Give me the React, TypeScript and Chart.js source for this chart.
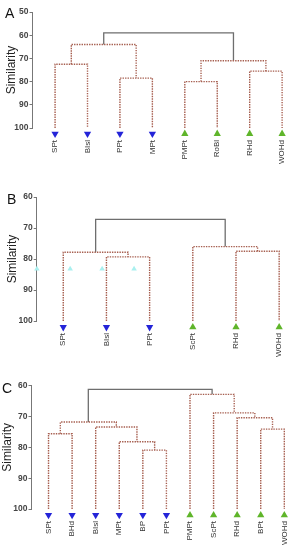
import React, { useEffect, useRef } from "react";
import { Chart, registerables } from "chart.js";

Chart.register(...registerables);

// ---------- Data ----------
// Panel A
const leavesA = ["SPt", "BIsl", "PPt", "MPt", "PMPt", "RoBl", "RHd", "WOHd"];
const groupsA = ["down", "down", "down", "down", "up", "up", "up", "up"];
// merges: [leftNode, rightNode, similarity]; node ids >= leaves.length refer to earlier merges
const mergesA: [number, number, number][] = [
  [0, 1, 72.5],
  [2, 3, 78.5],
  [8, 9, 64],
  [4, 5, 80],
  [6, 7, 75.5],
  [11, 12, 71],
  [10, 13, 59],
];
const ticksA = [50, 60, 70, 80, 90, 100];

// Panel B
const leavesB = ["SPt", "BIsl", "PPt", "ScPt", "RHd", "WOHd"];
const groupsB = ["down", "down", "down", "up", "up", "up"];
const mergesB: [number, number, number][] = [
  [1, 2, 79.3],
  [0, 6, 77.8],
  [4, 5, 77.5],
  [3, 8, 76],
  [7, 9, 67.2],
];
const ticksB = [60, 70, 80, 90, 100];
// faint cyan triangles visible in panel B
const ghostXB = [-0.61, 0.16, 0.9, 1.64];
const ghostYB = [83.2, 83.2, 83.2, 83.2];

// Panel C
const leavesC = ["SPt", "BHd", "BIsl", "MPt", "BP", "PPt", "PMPt", "ScPt", "RHd", "BPt", "WOHd"];
const groupsC = ["down", "down", "down", "down", "down", "down", "up", "up", "up", "up", "up"];
const mergesC: [number, number, number][] = [
  [0, 1, 75.6],
  [4, 5, 80.9],
  [3, 12, 78.2],
  [2, 13, 73.4],
  [11, 14, 71.8],
  [9, 10, 74.1],
  [8, 16, 70.4],
  [7, 17, 68.8],
  [6, 18, 62.8],
  [15, 19, 61.2],
];
const ticksC = [60, 70, 80, 90, 100];

// ---------- Styles ----------
const LINK_RED = "#a65e4f";
const LINK_GRAY = "#6e6e6e";
const BLUE = "#2424d8";
const GREEN = "#5fb52a";

type PanelCfg = {
  letter: string;
  leaves: string[];
  groups: string[];
  merges: [number, number, number][];
  ticks: number[];
  ghostX?: number[];
  ghostY?: number[];
  top: number;
  left: number;
  width: number;
  height: number;
  padTop: number;
  yWidth: number;
  xHeight: number;
  xMin: number;
  xMax: number;
  markerY: number;
  titlePad: number;
  letterX: number;
  letterY: number;
};

function buildDatasets(cfg: PanelCfg) {
  const xs: number[] = cfg.leaves.map((_, i) => i);
  const hs: number[] = cfg.leaves.map(() => 100);
  const ds: any[] = [];
  cfg.merges.forEach(([l, r, s], k) => {
    const isTop = k === cfg.merges.length - 1;
    xs.push((xs[l] + xs[r]) / 2);
    hs.push(s);
    ds.push({
      data: [
        { x: xs[l], y: hs[l] },
        { x: xs[l], y: s },
        { x: xs[r], y: s },
        { x: xs[r], y: hs[r] },
      ],
      showLine: true,
      pointRadius: 0,
      pointHoverRadius: 0,
      borderColor: isTop ? LINK_GRAY : LINK_RED,
      borderWidth: isTop ? 1.3 : 1.4,
      borderDash: isTop ? [] : [1.4, 1.1],
      tension: 0,
      fill: false,
      clip: false,
    });
  });
  if (cfg.ghostX && cfg.ghostY) {
    ds.push({
      data: cfg.ghostX.map((x, i) => ({ x, y: cfg.ghostY![i] })),
      pointStyle: "triangle",
      pointRadius: 3.2,
      pointHoverRadius: 12,
      backgroundColor: "#a9f0ef",
      borderColor: "#a9f0ef",
      borderWidth: 0,
      showLine: false,
      clip: false,
    });
  }
  const downPts = cfg.leaves
    .map((_, i) => i)
    .filter((i) => cfg.groups[i] === "down")
    .map((i) => ({ x: i, y: cfg.markerY }));
  const upPts = cfg.leaves
    .map((_, i) => i)
    .filter((i) => cfg.groups[i] === "up")
    .map((i) => ({ x: i, y: cfg.markerY }));
  ds.push({
    data: downPts,
    pointStyle: "triangle",
    rotation: 180,
    pointRadius: 4.2,
    pointHoverRadius: 12,
    backgroundColor: BLUE,
    borderColor: BLUE,
    borderWidth: 0,
    showLine: false,
    clip: false,
  });
  ds.push({
    data: upPts,
    pointStyle: "triangle",
    pointRadius: 4.2,
    pointHoverRadius: 12,
    backgroundColor: GREEN,
    borderColor: GREEN,
    borderWidth: 0,
    showLine: false,
    clip: false,
  });
  return ds;
}

function Panel({ cfg }: { cfg: PanelCfg }) {
  const ref = useRef<HTMLCanvasElement>(null);
  useEffect(() => {
    const canvas = ref.current!;
    const chart = new Chart(canvas, {
      type: "scatter",
      data: { datasets: buildDatasets(cfg) },
      options: {
        animation: false,
        responsive: false,
        devicePixelRatio: 1,
        events: [],
        layout: { padding: { top: cfg.padTop, left: 0, right: 0, bottom: 0 } },
        plugins: { legend: { display: false }, tooltip: { enabled: false } },
        scales: {
          x: {
            type: "linear",
            min: cfg.xMin,
            max: cfg.xMax,
            grid: { display: false, drawTicks: false },
            border: { display: false },
            afterBuildTicks: (s: any) => {
              s.ticks = cfg.leaves.map((_, i) => ({ value: i }));
            },
            afterFit: (s: any) => {
              s.height = cfg.xHeight;
              s.paddingLeft = 0;
              s.paddingRight = 0;
            },
            ticks: {
              autoSkip: false,
              minRotation: 90,
              maxRotation: 90,
              padding: 12,
              color: "#333",
              font: { family: "Arial, 'Liberation Sans', sans-serif", size: 8 },
              callback: (v: any) => cfg.leaves[v] ?? "",
            },
          },
          y: {
            type: "linear",
            reverse: true,
            min: cfg.ticks[0],
            max: cfg.ticks[cfg.ticks.length - 1],
            afterBuildTicks: (s: any) => {
              s.ticks = cfg.ticks.map((v) => ({ value: v }));
            },
            afterFit: (s: any) => {
              s.width = cfg.yWidth;
              s.paddingTop = 0;
              s.paddingBottom = 0;
            },
            grid: {
              drawOnChartArea: false,
              drawTicks: true,
              tickLength: 3,
              color: "#777",
              lineWidth: 1,
            },
            border: { display: true, color: "#777", width: 1 },
            ticks: {
              padding: 1,
              color: "#444",
              font: { family: "Arial, 'Liberation Sans', sans-serif", size: 8.5, weight: "bold" },
            },
            title: {
              display: true,
              text: "Similarity",
              color: "#222",
              padding: { top: cfg.titlePad, bottom: 0 },
              font: { family: "Arial, 'Liberation Sans', sans-serif", size: 12 },
            },
          },
        },
      } as any,
    });
    return () => chart.destroy();
  }, []);
  return (
    <>
      <canvas
        ref={ref}
        width={cfg.width}
        height={cfg.height}
        style={{ position: "absolute", left: cfg.left, top: cfg.top, width: cfg.width, height: cfg.height }}
      />
      <div
        style={{
          position: "absolute",
          left: cfg.letterX,
          top: cfg.letterY,
          fontFamily: "Arial, 'Liberation Sans', sans-serif",
          fontSize: 14,
          lineHeight: "14px",
          color: "#111",
        }}
      >
        {cfg.letter}
      </div>
    </>
  );
}

const panels: PanelCfg[] = [
  {
    letter: "A",
    leaves: leavesA,
    groups: groupsA,
    merges: mergesA,
    ticks: ticksA,
    top: 0,
    left: 0,
    width: 297,
    height: 172,
    padTop: 10,
    yWidth: 32.5,
    xHeight: 44,
    xMin: -0.696,
    xMax: 7.089,
    markerY: 102.5,
    titlePad: 4,
    letterX: 5,
    letterY: 6,
  },
  {
    letter: "B",
    leaves: leavesB,
    groups: groupsB,
    merges: mergesB,
    ticks: ticksB,
    ghostX: ghostXB,
    ghostY: ghostYB,
    top: 180,
    left: 0,
    width: 297,
    height: 178,
    padTop: 17,
    yWidth: 36.7,
    xHeight: 37,
    xMin: -0.615,
    xMax: 5.135,
    markerY: 102,
    titlePad: 5,
    letterX: 7,
    letterY: 192,
  },
  {
    letter: "C",
    leaves: leavesC,
    groups: groupsC,
    merges: mergesC,
    ticks: ticksC,
    top: 360,
    left: 0,
    width: 297,
    height: 190,
    padTop: 25.7,
    yWidth: 31.5,
    xHeight: 41,
    xMin: -0.722,
    xMax: 10.029,
    markerY: 102,
    titlePad: 0,
    letterX: 2,
    letterY: 381,
  },
];

export default function App() {
  return (
    <div style={{ position: "absolute", left: 0, top: 0, width: 297, height: 550, background: "#fff", overflow: "hidden" }}>
      {panels.map((p) => (
        <Panel key={p.letter} cfg={p} />
      ))}
    </div>
  );
}
